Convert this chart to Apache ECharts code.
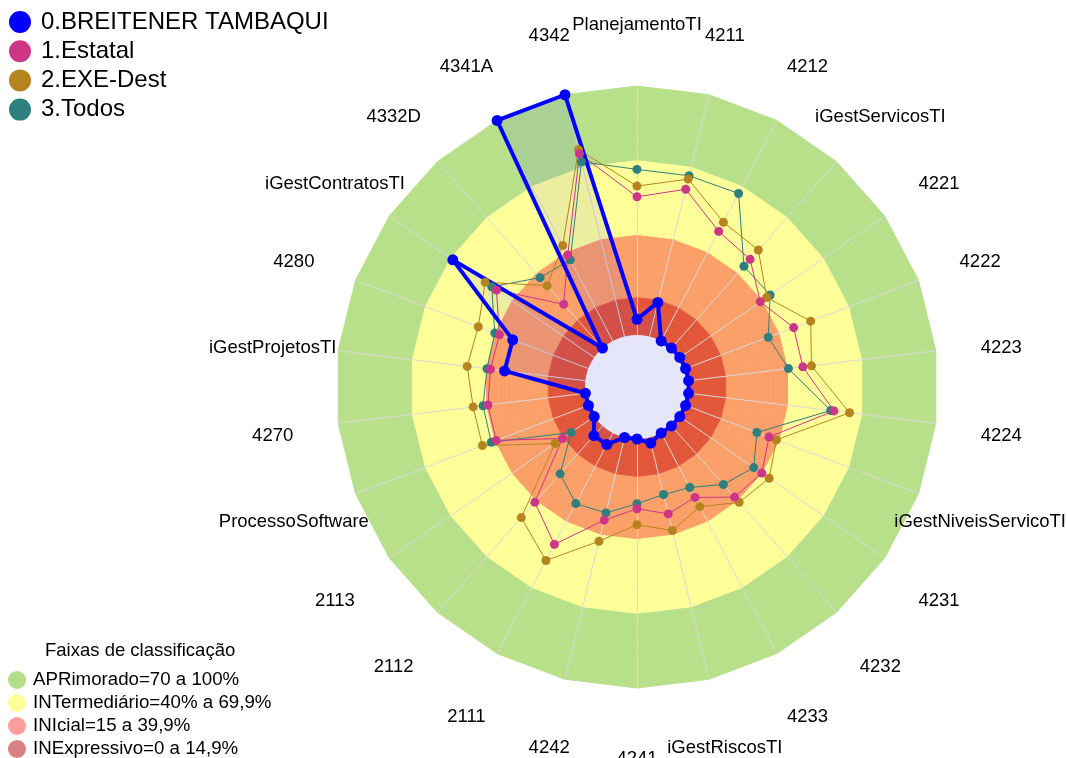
<!DOCTYPE html>
<html>
<head>
<meta charset="utf-8">
<title>Radar - faixas de classificação</title>
<script src="https://cdn.jsdelivr.net/npm/echarts@6/dist/echarts.min.js"></script>
<style>
  html, body { margin: 0; padding: 0; background: #fff; }
  #chart { width: 1067px; height: 758px; }
</style>
</head>
<body>
<div id="chart"></div>
<script>
// eixos no sentido horário, a partir do topo
var categories = ['PlanejamentoTI', '4211', '4212', 'iGestServicosTI', '4221', '4222', '4223', '4224',
  'iGestNiveisServicoTI', '4231', '4232', '4233', 'iGestRiscosTI', '4241', '4242', '2111', '2112', '2113',
  'ProcessoSoftware', '4270', 'iGestProjetosTI', '4280', 'iGestContratosTI', '4332D', '4341A', '4342'];

var seriesNames = ['0.BREITENER TAMBAQUI', '1.Estatal', '2.EXE-Dest', '3.Todos'];
var breitener = [6.3, 14.1, 0, 0, 0, 0, 0, 0, 0, 0, 0, 0, 2.3, 0, 0, 5.2, 5.2, 0, 0, 0, 32.7, 32.5, 69, 0, 100, 100];
var estatal = [55.5, 60.9, 49.7, 47.6, 39.3, 46.4, 46.2, 58.8, 35.8, 40, 38.2, 29.2, 31.6, 28, 34.2, 50.5, 41, 15.5, 39.6, 39.4, 38.4, 38.2, 47.7, 23.5, 39, 75.6];
var exeDest = [59.8, 65.1, 53.8, 52.6, 42.4, 53.7, 49.7, 65.1, 39, 43.6, 41, 33.4, 38.5, 34.4, 42.9, 57.8, 49.2, 19.1, 45.5, 45.4, 47.8, 47.3, 53.2, 33.5, 43.3, 77.3];
var todos = [66.5, 66.5, 66.9, 43.9, 44.1, 35.5, 40.4, 57.5, 30.6, 36.1, 31.4, 24.7, 23.6, 26, 31.2, 32, 25.7, 11.2, 41.7, 41.4, 39.8, 40.2, 50, 37.8, 36.8, 72.3];

// faixas de classificação (limite inferior de cada faixa)
var bandNames = ['APRimorado=70 a 100%', 'INTermediário=40% a 69,9%', 'INIcial=15 a 39,9%', 'INExpressivo=0 a 14,9%'];
var bandLower = [70, 40, 15, 0];
var ringStep = 5;

var font = 'Liberation Sans, Arial, sans-serif';
var seriesColors = ['#0000FF', '#CD3687', '#B6841E', '#2E7F7D'];
var bandFill = ['#B8E08B', '#FFFF99', '#FCA06A', '#E2573A'];
var bandLegendColors = ['#B5DC8A', '#FFFF99', '#FF9C9C', '#D98080'];

// echarts desenha os eixos no sentido anti-horário: inverte mantendo o primeiro no topo
function ccw(arr) {
  return [arr[0]].concat(arr.slice(1).reverse());
}

function bandColorAt(v) {
  for (var b = 0; b < bandLower.length; b++) {
    if (v >= bandLower[b]) return bandFill[b];
  }
  return bandFill[bandFill.length - 1];
}

// uma cor por anel (área) e uma por linha de anel, para esconder as emendas
var ringColors = [];
var ringLineColors = [];
for (var v = 0; v <= 100; v += ringStep) {
  if (v < 100) ringColors.push(bandColorAt(v));
  ringLineColors.push(bandColorAt(Math.max(v - ringStep, 0)));
}

var values = [breitener, estatal, exeDest, todos];
var mainData = [];
// ordem de desenho: 3, 2, 1, 0 (azul por cima)
for (var i = values.length - 1; i >= 0; i--) {
  var isMain = i === 0;
  mainData.push({
    name: seriesNames[i],
    value: ccw(values[i]),
    symbol: 'circle',
    symbolSize: isMain ? 11 : 9,
    lineStyle: { color: seriesColors[i], width: isMain ? 4 : 1 },
    itemStyle: { color: seriesColors[i], borderWidth: 0 }
  });
}

var chart = echarts.init(document.getElementById('chart'));
chart.setOption({
  animation: false,
  title: {
    text: 'Faixas de classificação',
    left: 45,
    top: 641,
    padding: 0,
    textStyle: { fontSize: 18.5, fontWeight: 'normal', color: '#000', fontFamily: font, lineHeight: 20 }
  },
  legend: [{
    orient: 'vertical',
    left: 9,
    top: 10,
    padding: 0,
    icon: 'circle',
    itemWidth: 32,
    itemHeight: 22,
    itemGap: 5.2,
    selectedMode: false,
    itemStyle: { borderWidth: 0 },
    textStyle: { fontSize: 24, lineHeight: 24, color: '#000', fontFamily: font },
    data: seriesNames.map(function (n, k) {
      return { name: n, itemStyle: { color: seriesColors[k] } };
    })
  }, {
    orient: 'vertical',
    left: 8,
    top: 670.5,
    height: 100,
    padding: 0,
    icon: 'circle',
    itemWidth: 22,
    itemHeight: 18,
    itemGap: 4,
    selectedMode: false,
    itemStyle: { borderWidth: 0 },
    textStyle: { fontSize: 18.7, lineHeight: 19, color: '#000', fontFamily: font },
    data: bandNames.map(function (n, k) {
      return { name: n, itemStyle: { color: bandLegendColors[k] } };
    })
  }],
  radar: {
    center: [637, 387],
    radius: [52, 301],
    startAngle: 90,
    shape: 'polygon',
    splitNumber: 100 / ringStep,
    nameGap: 66,
    indicator: ccw(categories).map(function (c) { return { name: c, min: 0, max: 100 }; }),
    axisName: {
      color: '#000', fontSize: 18.5, fontFamily: font,
      align: 'center', verticalAlign: 'top', lineHeight: 10
    },
    axisLine: { lineStyle: { color: '#D9D9D9', width: 1 } },
    axisTick: { show: false },
    axisLabel: { show: false },
    splitLine: { show: true, lineStyle: { color: ringLineColors, width: 1 } },
    splitArea: { show: true, areaStyle: { color: ringColors } }
  },
  graphic: [{
    type: 'circle',
    shape: { cx: 637, cy: 387, r: 52 },
    style: { fill: '#E6E6FA' },
    z: 3,
    silent: true
  }],
  series: [{
    // só o preenchimento do polígono azul, abaixo do círculo central
    type: 'radar',
    z: 2,
    silent: true,
    symbol: 'none',
    data: [{
      name: 'area0',
      value: ccw(breitener),
      lineStyle: { width: 0, opacity: 0 },
      areaStyle: { color: 'rgba(0, 0, 255, 0.1)' }
    }]
  }, {
    type: 'radar',
    z: 4,
    data: mainData
  }, {
    // série vazia só para a legenda das faixas
    type: 'radar',
    z: 1,
    silent: true,
    symbol: 'none',
    data: bandNames.map(function (n, k) {
      return {
        name: n,
        value: [],
        lineStyle: { width: 0, opacity: 0 },
        itemStyle: { color: bandLegendColors[k] }
      };
    })
  }]
});
</script>
</body>
</html>
